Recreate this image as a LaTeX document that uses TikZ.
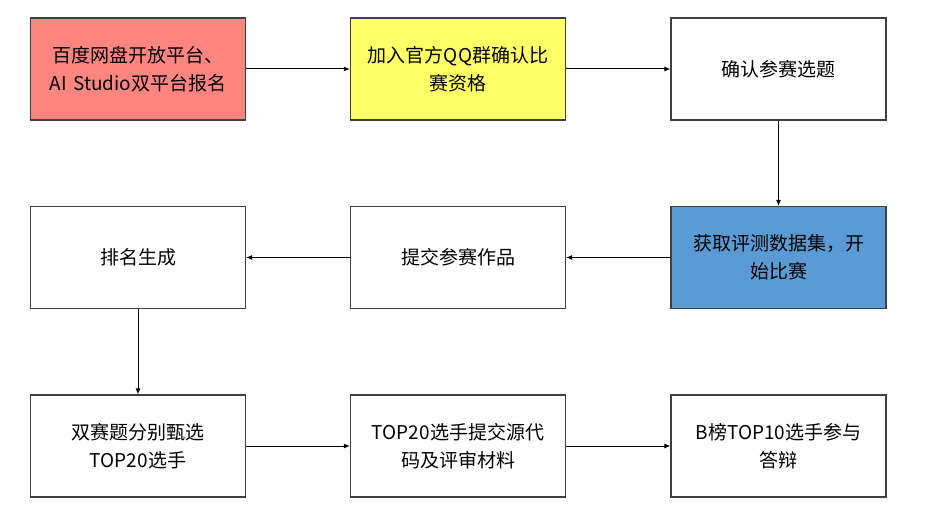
\documentclass[tikz,border=0pt]{standalone}
\usepackage{fontspec}
\setmainfont{Noto Sans CJK SC}
\usetikzlibrary{arrows.meta}
\definecolor{boxline}{RGB}{64,64,64}
\definecolor{signpink}{RGB}{255,134,128}
\definecolor{qqyellow}{RGB}{255,255,102}
\definecolor{startblue}{RGB}{91,155,213}
\tikzset{
	stepbox/.style={draw=boxline, line width=1.1pt, fill=white, minimum width=215pt, minimum height=102pt,
		text width=205pt, align=center, font=\fontsize{19}{28}\selectfont, inner sep=0pt},
	flow/.style={-{Latex[length=6pt, width=5pt]}, line width=1pt, black}
}
\begin{document}
\begin{tikzpicture}[x=1pt, y=-1pt]
	\useasboundingbox (0,0) rectangle (928,532);
	% ================= 第一行 =================
	\node[stepbox, fill=signpink] (signup) at (138,69) {百度网盘开放平台、\\AI Studio双平台报名};
	\node[stepbox, fill=qqyellow] (qqgroup) at (458,69) {加入官方QQ群确认比\\赛资格};
	\node[stepbox] (topic) at (778.5,69) {确认参赛选题};
	
	% ================= 第二行 =================
	\node[stepbox, fill=startblue] (dataset) at (778.5,257.5) {获取评测数据集，开\\始比赛};
	\node[stepbox] (submit) at (458,257.5) {提交参赛作品};
	\node[stepbox] (rank) at (138,257.5) {排名生成};
	
	% ================= 第三行 =================
	\node[stepbox] (select) at (138,446) {双赛题分别甄选\\TOP20选手};
	\node[stepbox] (code) at (458,446) {TOP20选手提交源代\\码及评审材料};
	\node[stepbox] (defense) at (778.5,446) {B榜TOP10选手参与\\答辩};
	
	% 连接线
	\draw[flow] (signup) -- (qqgroup);
	\draw[flow] (qqgroup) -- (topic);
	\draw[flow] (topic) -- (dataset);
	\draw[flow] (dataset) -- (submit);
	\draw[flow] (submit) -- (rank);
	\draw[flow] (rank) -- (select);
	\draw[flow] (select) -- (code);
	\draw[flow] (code) -- (defense);
\end{tikzpicture}
\end{document}
